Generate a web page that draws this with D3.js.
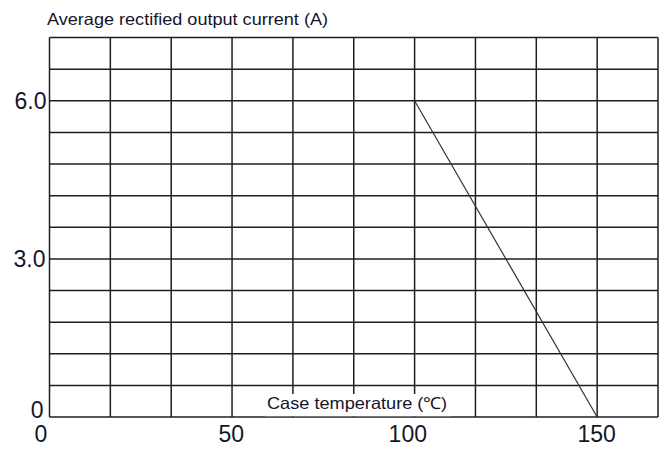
<!DOCTYPE html>
<html><head><meta charset="utf-8">
<script src="https://cdn.jsdelivr.net/npm/d3@7"></script>
<style>html,body{margin:0;padding:0;background:#fff}svg{display:block}</style>
</head><body>
<svg id="c" width="670" height="450"></svg>
<script>
// Data
const temperature = [100, 150];          // Case temperature (°C)
const current = [6.0, 0];                // Average rectified output current (A)
const xTickValues = [0, 50, 100, 150];
const xTickLabels = ["0", "50", "100", "150"];
const yTickValues = [0, 3.0, 6.0];
const yTickLabels = ["0", "3.0", "6.0"];
const xGridStep = 50 / 3;
const yGridStep = 0.6;
const yTitle = "Average rectified output current (A)";
const xTitle = "Case temperature (\u2103)";

const svg = d3.select("#c");
const x = d3.scaleLinear().domain([0, 500 / 3]).range([49.5, 658]);
const y = d3.scaleLinear().domain([0, 7.2]).range([417, 37.5]);
const ink = "#15152a";
const font = "Liberation Sans, Arial, sans-serif";

// grid
const xs = d3.range(0, 11).map(i => i * xGridStep);
const ys = d3.range(0, 13).map(i => i * yGridStep);
const g = svg.append("g");
g.selectAll(".v").data(xs).enter().append("line")
  .attr("x1", d => x(d)).attr("x2", d => x(d))
  .attr("y1", y(7.2)).attr("y2", y(0))
  .attr("stroke", "#1e1e1e").attr("stroke-width", 1.5);
g.selectAll(".h").data(ys).enter().append("line")
  .attr("y1", d => y(d)).attr("y2", d => y(d))
  .attr("x1", x(0)).attr("x2", x(500 / 3))
  .attr("stroke", "#1e1e1e").attr("stroke-width", 1.5);

// x title with white box
const boxY = y(0) - 23;
svg.append("rect").attr("x", 265).attr("y", boxY).attr("width", 186).attr("height", 22.2).attr("fill", "#fff");
svg.append("text").attr("x", 357).attr("y", 408.5).attr("text-anchor", "middle")
  .attr("font-family", font).attr("font-size", 16.5).attr("fill", ink)
  .attr("textLength", 180).attr("lengthAdjust", "spacingAndGlyphs").text(xTitle);

// data line
const line = d3.line().x((d, i) => x(temperature[i])).y(d => y(d));
svg.append("path").datum(current).attr("d", line)
  .attr("fill", "none").attr("stroke", "#333").attr("stroke-width", 1.2);

// y title
svg.append("text").attr("x", 47).attr("y", 25)
  .attr("font-family", font).attr("font-size", 16.5).attr("fill", ink)
  .attr("textLength", 281).attr("lengthAdjust", "spacingAndGlyphs").text(yTitle);

// y tick labels
const yNudge = [-7.5, 0, 0];
const yRight = [43.5, 45.5, 46.5];
svg.selectAll(".yl").data(yTickValues).enter().append("text")
  .attr("x", (d, i) => yRight[i]).attr("y", (d, i) => y(d) + 8.3 + yNudge[i])
  .attr("text-anchor", "end").attr("font-family", font).attr("font-size", 23).attr("fill", ink)
  .text((d, i) => yTickLabels[i]);

// x tick labels
const xNudge = [-8.5, -0.7, -6.8, -0.5];
svg.selectAll(".xl").data(xTickValues).enter().append("text")
  .attr("x", (d, i) => x(d) + xNudge[i]).attr("y", 441.5)
  .attr("text-anchor", "middle").attr("font-family", font).attr("font-size", 23).attr("fill", ink)
  .text((d, i) => xTickLabels[i]);
</script>
</body></html>
